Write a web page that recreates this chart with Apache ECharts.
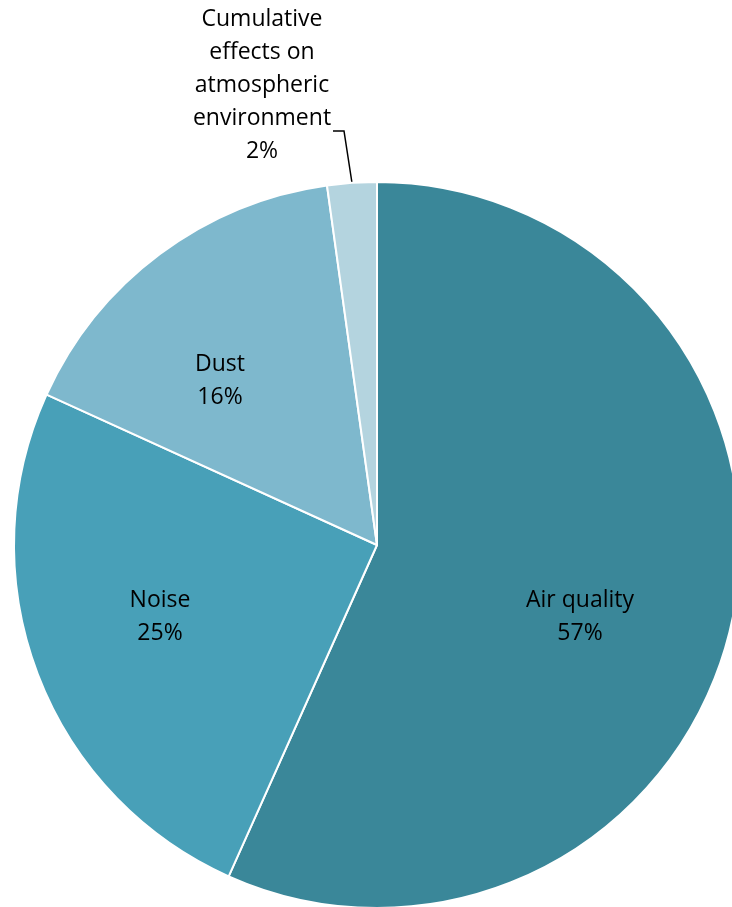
<!DOCTYPE html>
<html>
<head>
<meta charset="utf-8">
<title>Pie</title>
<script src="https://cdn.jsdelivr.net/npm/echarts@6/dist/echarts.min.js"></script>
<style>
  html, body { margin: 0; padding: 0; background: #fff; }
  #chart { width: 732px; height: 907px; }
</style>
</head>
<body>
<div id="chart"></div>
<script>
// data
var categories = ['Air quality', 'Noise', 'Dust', 'Cumulative\neffects on\natmospheric\nenvironment'];
var values = [56.7, 25.1, 16.0, 2.2];
var colors = ['#3a8799', '#48a0b8', '#7eb8cd', '#b4d4df'];

// where the labels sit (label centre, px)
var labelSpots = [[580, 617], [160, 617], [220, 381], [262, 85]];

var chart = echarts.init(document.getElementById('chart'));

var seriesData = categories.map(function (name, i) {
  var item = { name: name, value: values[i], itemStyle: { color: colors[i] } };
  if (i === 3) {
    item.label = { position: 'outside' };
    item.labelLine = { show: true };
  }
  return item;
});

chart.setOption({
  animation: false,
  series: [{
    type: 'pie',
    center: [377, 545],
    radius: 363,
    startAngle: 90,
    clockwise: true,
    data: seriesData,
    itemStyle: { borderColor: '#fff', borderWidth: 2 },
    label: {
      show: true,
      position: 'inside',
      fontFamily: 'Open Sans',
      fontSize: 23,
      lineHeight: 33,
      color: '#000',
      align: 'center',
      formatter: function (p) {
        return p.name + '\n' + Math.round(p.percent) + '%';
      }
    },
    labelLine: { show: false, lineStyle: { color: '#000', width: 1.5 } },
    labelLayout: function (p) {
      var s = labelSpots[p.dataIndex];
      var out = { x: s[0], y: s[1], align: 'center', verticalAlign: 'middle' };
      if (p.dataIndex === 3) {
        out.labelLinePoints = [[333, 131], [344, 131], [352, 183]];
      }
      return out;
    }
  }]
});
</script>
</body>
</html>
